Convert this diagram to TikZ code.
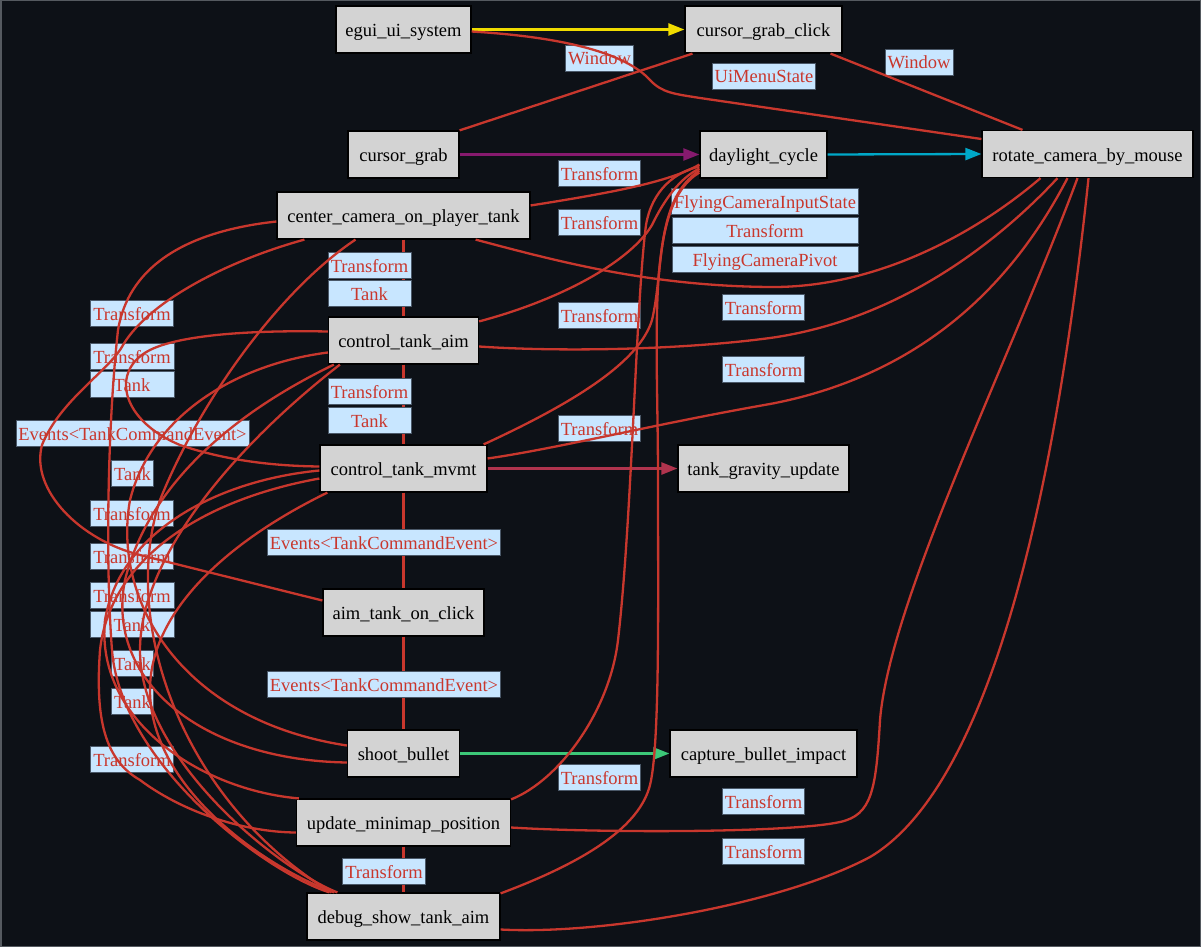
\documentclass[tikz,border=0pt]{standalone}
\usepackage{fontspec}
\setmainfont{Liberation Serif}
\usetikzlibrary{arrows.meta,calc}
\definecolor{bg}{HTML}{0D1117}
\definecolor{nodegray}{HTML}{D3D3D3}
\definecolor{labfill}{HTML}{C8E6FF}
\definecolor{labborder}{HTML}{4A5868}
\definecolor{labred}{HTML}{C8372D}
\definecolor{edgered}{HTML}{C8372D}
\definecolor{cyel}{HTML}{F0DC00}
\definecolor{cpur}{HTML}{861A6E}
\definecolor{ccya}{HTML}{00A8C8}
\definecolor{cmar}{HTML}{B0344E}
\definecolor{cgre}{HTML}{3CC878}
\definecolor{framegray}{HTML}{555A60}
\begin{document}
\begin{tikzpicture}[x=1pt,y=-1pt,
  sysbox/.style={draw=black, line width=1.2pt, fill=nodegray, minimum height=47pt,
    inner xsep=6pt, inner ysep=0pt, text height=17pt, text depth=3pt,
    font=\fontsize{18.5}{22}\selectfont, text=black},
  lab/.style={draw=labborder, line width=0.8pt, fill=labfill, text=labred,
    minimum height=26pt, inner xsep=2.5pt, inner ysep=0pt,
    text height=16.5pt, text depth=2.5pt, font=\fontsize{18.5}{22}\selectfont},
  re/.style={draw=edgered, line width=2.3pt},
  arr/.style={line width=2.3pt, -{Triangle[length=16pt,width=12pt]}}
]
\fill[bg] (0,0) rectangle (1201,947);
\draw[framegray, line width=1.5pt] (0.75,0.75) rectangle (1200.25,946.25);
\useasboundingbox (0,0) rectangle (1201,947);

% nodes
\node[sysbox, minimum width=135pt] (egui) at (403.5,29.5) {egui\_ui\_system};
\node[sysbox, minimum width=157pt] (cgc) at (763.5,29.5) {cursor\_grab\_click};
\node[sysbox, minimum width=111pt] (cg) at (403.5,154.5) {cursor\_grab};
\node[sysbox, minimum width=127pt] (day) at (763.5,154.5) {daylight\_cycle};
\node[sysbox, minimum width=211pt] (rot) at (1087.5,154) {rotate\_camera\_by\_mouse};
\node[sysbox, minimum width=253pt] (cc) at (403.5,215.5) {center\_camera\_on\_player\_tank};
\node[sysbox, minimum width=150pt] (aim) at (403.5,340.5) {control\_tank\_aim};
\node[sysbox, minimum width=167pt] (mvmt) at (403.5,468.5) {control\_tank\_mvmt};
\node[sysbox, minimum width=171pt] (grav) at (763.5,468.5) {tank\_gravity\_update};
\node[sysbox, minimum width=161pt] (click) at (403.5,612.5) {aim\_tank\_on\_click};
\node[sysbox, minimum width=112pt] (shoot) at (403.5,753.5) {shoot\_bullet};
\node[sysbox, minimum width=187pt] (capt) at (763.5,753.5) {capture\_bullet\_impact};
\node[sysbox, minimum width=214pt] (mini) at (403.5,822.5) {update\_minimap\_position};
\node[sysbox, minimum width=193pt] (dbg) at (403.5,916.5) {debug\_show\_tank\_aim};

% vertical edges (under their labels)
\draw[re] (cc.south) -- (aim.north);
\draw[re] (aim.south) -- (mvmt.north);
\draw[re] (mvmt.south) -- (click.north);
\draw[re] (click.south) -- (shoot.north);
\draw[re] (mini.south) -- (dbg.north);

% labels
\node[lab] (lw1) at (599.5,58) {Window};
\node[lab] (lui) at (764,76) {UiMenuState};
\node[lab] (lw2) at (919,62) {Window};
\node[lab] (lt1) at (599.5,173) {Transform};
\node[lab] (lt2) at (599.5,222) {Transform};
\node[lab] (lt3) at (599.5,315) {Transform};
\node[lab] (lt4) at (599.5,428) {Transform};
\node[lab] (lt5) at (599.5,777) {Transform};
\node[lab, minimum width=186pt] (lfi) at (765,201) {FlyingCameraInputState};
\node[lab, minimum width=186pt] (lft) at (765,230) {Transform};
\node[lab, minimum width=186pt] (lfp) at (765,259) {FlyingCameraPivot};
\node[lab] (lr1) at (763.5,307) {Transform};
\node[lab] (lr2) at (763.5,369) {Transform};
\node[lab] (lr3) at (763.5,801) {Transform};
\node[lab] (lr4) at (763.5,851) {Transform};
\node[lab, minimum width=83pt] (lv1) at (369.5,265) {Transform};
\node[lab, minimum width=83pt] (lv2) at (369.5,293) {Tank};
\node[lab, minimum width=83pt] (lv3) at (369.5,391) {Transform};
\node[lab, minimum width=83pt] (lv4) at (369.5,420) {Tank};
\node[lab] (lv5) at (384,542) {Events<TankCommandEvent>};
\node[lab] (lv6) at (384,684) {Events<TankCommandEvent>};
\node[lab] (lv7) at (384,871) {Transform};
\node[lab] (ll1) at (132,313) {Transform};
\node[lab, minimum width=84pt] (ll2) at (132,356) {Transform};
\node[lab, minimum width=84pt] (ll3) at (132,384) {Tank};
\node[lab] (ll4) at (132.5,433) {Events<TankCommandEvent>};
\node[lab] (ll5) at (132.5,473) {Tank};
\node[lab] (ll6) at (132,513) {Transform};
\node[lab] (ll7) at (132,556) {Transform};
\node[lab, minimum width=84pt] (ll8) at (132,595) {Transform};
\node[lab, minimum width=84pt] (ll9) at (132,624) {Tank};
\node[lab] (ll10) at (132.5,663) {Tank};
\node[lab] (ll11) at (132.5,701) {Tank};
\node[lab] (ll12) at (132,759) {Transform};

% coloured arrows
\draw[arr, cyel] (egui.east) -- (cgc.west);
\draw[arr, cpur] (cg.east) -- (day.west);
\draw[arr, ccya] (day.east) -- (rot.west);
\draw[arr, cmar] (mvmt.east) -- (grav.west);
\draw[arr, cgre] (shoot.east) -- (capt.west);

% red edges, right part
\draw[re] ([yshift=-2pt]egui.east) .. controls (580,38) and (630,58) .. (650,80)
  .. controls (662,93) and (675,94) .. (700,98) -- ([yshift=15pt]rot.west);
\draw[re] ([xshift=-71pt]cgc.south) -- (cg.north east);
\draw[re] ([xshift=67pt]cgc.south) -- ([xshift=-65pt]rot.north);
\draw[re] ([yshift=10pt]cc.east) .. controls (610,193) and (670,182) .. ([yshift=-10pt]day.west);
\draw[re] ([yshift=-5pt]aim.north east) .. controls (560,300) and (630,262) .. (652,225)
  .. controls (664,200) and (680,178) .. ([yshift=-14pt]day.west);
\draw[re] ([xshift=-4pt]mvmt.north east) .. controls (580,400) and (640,360) .. (652,320)
  .. controls (664,270) and (655,200) .. ([yshift=-16pt]day.west);
\draw[re] ([yshift=-1pt]mini.north east) .. controls (560,780) and (610,710) .. (618,640)
  .. controls (632,520) and (636,300) .. (646,225)
  .. controls (652,190) and (675,172) .. ([yshift=-12pt]day.west);
\draw[re] ([yshift=-1pt]dbg.north east) .. controls (590,860) and (640,825) .. (650,785)
  .. controls (660,745) and (658,600) .. (658,480)
  .. controls (658,330) and (645,205) .. ([yshift=-18pt]day.west);
\draw[re] ([xshift=-47pt]rot.south) .. controls (980,230) and (880,288) .. (770,287)
  .. controls (650,286) and (560,262) .. ([xshift=-55pt]cc.south east);
\draw[re] ([xshift=-30pt]rot.south) .. controls (1000,240) and (900,320) .. (770,338)
  .. controls (680,350) and (560,352) .. ([yshift=-6pt]aim.east);
\draw[re] ([xshift=-20pt]rot.south) .. controls (1030,250) and (950,370) .. (770,404)
  .. controls (650,425) and (560,448) .. ([yshift=10pt]mvmt.east);
\draw[re] ([xshift=-10pt]rot.south) .. controls (1010,360) and (890,600) .. (880,720)
  .. controls (876,790) and (872,815) .. (840,822)
  .. controls (790,833) and (600,833) .. ([yshift=-5pt]mini.east);
\draw[re] ([xshift=1pt]rot.south) .. controls (1060,450) and (1000,780) .. (870,857)
  .. controls (780,905) and (600,935) .. ([yshift=-13pt]dbg.east);

% red edges, left part
\draw[re] ([yshift=-6pt]cc.west) .. controls (180,232) and (128,270) .. (118,330)
  .. controls (108,420) and (105,560) .. (112,650)
  .. controls (120,760) and (260,870) .. ([xshift=23pt]dbg.north west);
\draw[re] ([xshift=28pt]cc.south west) .. controls (230,260) and (150,300) .. (123,345)
  .. controls (110,370) and (60,400) .. (42,445)
  .. controls (30,490) and (80,540) .. (140,555)
  .. controls (200,570) and (280,590) .. ([yshift=12pt]click.west);
\draw[re] ([yshift=9pt]aim.west) .. controls (250,330) and (180,335) .. (150,350)
  .. controls (110,370) and (120,420) .. (180,445)
  .. controls (230,462) and (280,466) .. ([yshift=2pt]mvmt.west);
\draw[re] ([yshift=-12pt]aim.west) .. controls (230,365) and (150,420) .. (130,500)
  .. controls (112,600) and (180,720) .. ([yshift=8pt]shoot.west);
\draw[re] ([xshift=6pt]aim.south west) .. controls (240,410) and (150,480) .. (125,580)
  .. controls (105,680) and (200,760) .. ([yshift=-9pt]shoot.west);
\draw[re] ([yshift=-2pt]mvmt.west) .. controls (220,480) and (120,530) .. (105,620)
  .. controls (95,720) and (200,790) .. ([xshift=3pt]mini.north west);
\draw[re] ([yshift=-10pt]mvmt.west) .. controls (200,500) and (110,560) .. (100,650)
  .. controls (95,720) and (105,760) .. (140,780)
  .. controls (180,810) and (240,832) .. ([yshift=-10pt]mini.west);
\draw[re] ([xshift=8pt]mvmt.south west) .. controls (230,540) and (150,610) .. (150,690)
  .. controls (150,790) and (270,870) .. ([xshift=28pt]dbg.north west);
\draw[re] ([xshift=-48pt]cc.south) .. controls (280,290) and (200,400) .. (160,500)
  .. controls (120,620) and (180,800) .. ([xshift=25pt]dbg.north west);
\draw[re] ([xshift=12pt]aim.south west) .. controls (230,450) and (140,560) .. (140,650)
  .. controls (140,760) and (280,870) .. ([xshift=31pt]dbg.north west);
\end{tikzpicture}
\end{document}
